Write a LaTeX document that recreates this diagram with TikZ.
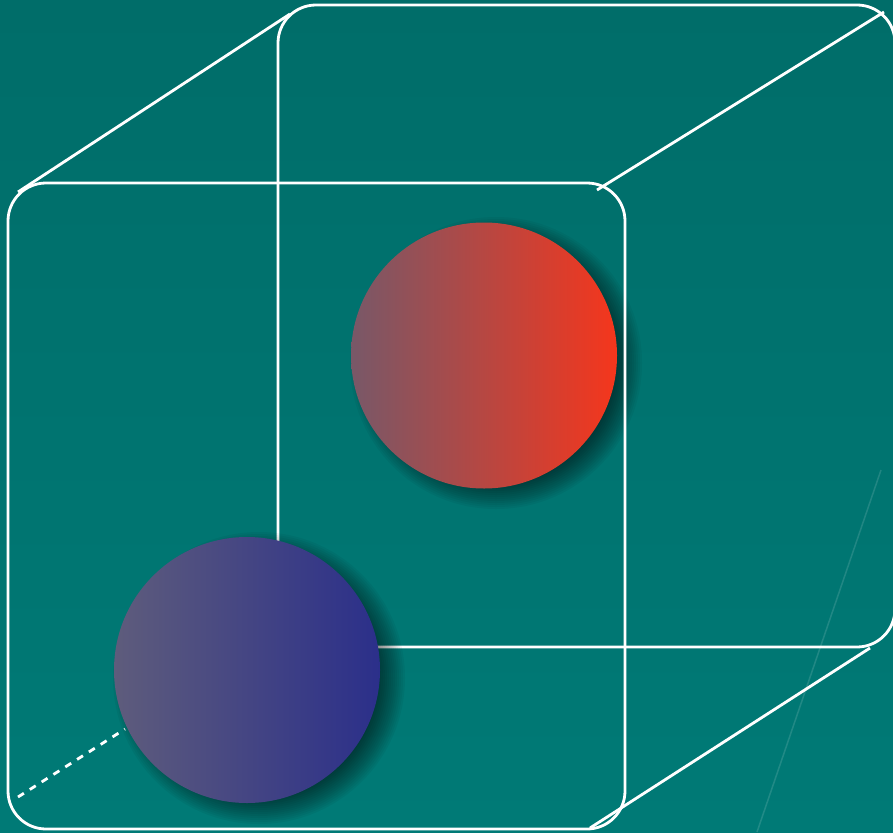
\documentclass[tikz,border=0pt]{standalone}
\usetikzlibrary{calc}
\definecolor{bgtop}{HTML}{006D69}
\definecolor{bgbot}{HTML}{007A76}
\definecolor{redL}{HTML}{785868}
\definecolor{redR}{HTML}{F5361C}
\definecolor{bluL}{HTML}{5E5C7C}
\definecolor{bluR}{HTML}{2B2F8A}
\tikzset{
  edge/.style={draw=white, line width=2.8pt},
  face/.style={edge, rectangle, rounded corners=38pt, inner sep=0pt},
  ball/.style={circle, minimum size=266pt, inner sep=0pt},
  hidden/.style={edge, dash pattern=on 7pt off 7pt},
}
\begin{document}
\begin{tikzpicture}[x=1pt,y=-1pt]
\useasboundingbox (0,0) rectangle (893,832);
\shade[top color=bgtop, bottom color=bgbot] (0,0) rectangle (893,832);
% faint line
\draw[white, opacity=0.13, line width=1.5pt] (881,470) coordinate (f1) -- (757,832) coordinate (f2);
% back face
\node[face, minimum width=617pt, minimum height=642pt] (back) at (586.5,326) {};
% connectors
\coordinate (tl1) at (18,192);  \coordinate (tl2) at (290,14);
\coordinate (tr1) at (597,190); \coordinate (tr2) at (884,12);
\coordinate (br1) at (590,828); \coordinate (br2) at (870,648);
\coordinate (bl1) at (18,797);  \coordinate (bl2) at (125,729);
\draw[edge] (tl1) -- (tl2);
\draw[edge] (tr1) -- (tr2);
\draw[edge] (br1) -- (br2);
\draw[hidden] (bl1) -- (bl2);
% shadows
\foreach \c in {(496,363),(259,678)}{
  \foreach \r in {146,144,...,120}{
    \fill[black, opacity=0.045] \c circle (\r);
  }
}
% spheres
\node[ball, left color=redL, right color=redR] (red) at (484,355.5) {};
\node[ball, left color=bluL, right color=bluR] (blue) at (247,670) {};
% front face
\node[face, minimum width=617pt, minimum height=646pt] (front) at (316.5,506) {};
\end{tikzpicture}
\end{document}
